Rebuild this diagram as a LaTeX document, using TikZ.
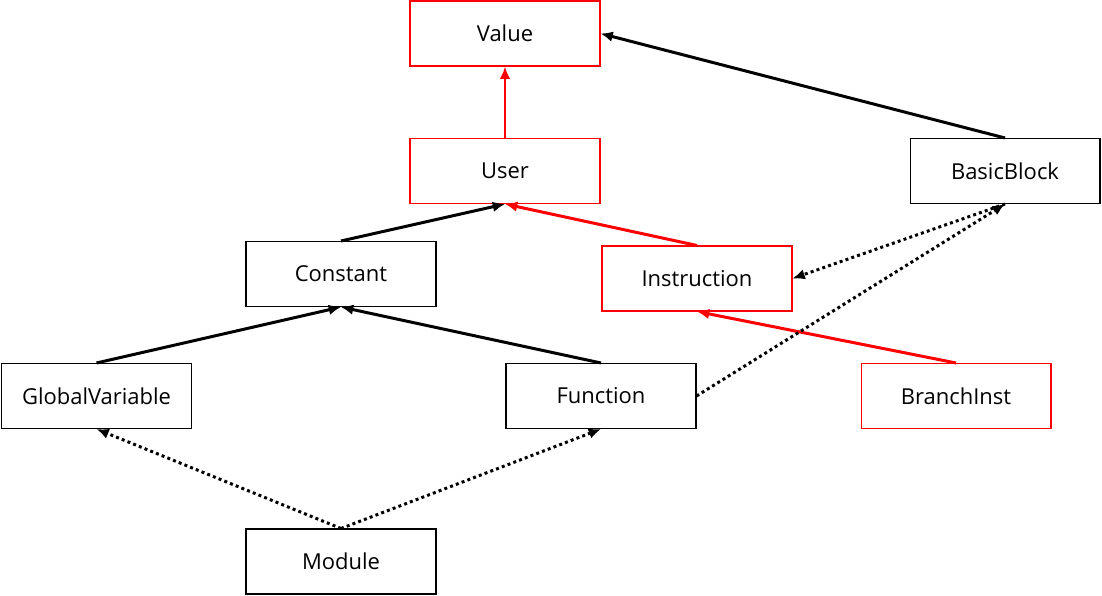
\documentclass[tikz,border=0pt]{standalone}
\usepackage{fontspec}
\setmainfont{Open Sans}
\usetikzlibrary{arrows.meta}

\begin{document}
\begin{tikzpicture}[x=0.02cm,y=-0.02cm,
  cls/.style={draw=#1,line width=0.6pt,
  	minimum width=3.8cm,
   minimum height=1.3cm,
   inner sep=0pt,
   font=\fontsize{12.5}{15}\selectfont},
  cls/.default=black,
  isa/.style={-{Latex[length=7pt,width=6pt]},line width=1.7pt,draw=#1},
  isa/.default=black,
  uses/.style={-{Latex[length=7pt,width=6pt]},line width=1.7pt,
  	dash pattern=on 1.7pt off 1.8pt},
  ]

 \useasboundingbox (0,0) rectangle (1102,595);

 \node[cls=red] (value) at (505,33.5) {Value};
 \node[cls=red] (user) at (505,171) {User};
 \node[cls] (bb) at (1005,171) {BasicBlock};
 \node[cls] (const) at (341,274) {Constant};
 \node[cls=red] (inst) at (697,278.5) {Instruction};
 \node[cls] (gvar) at (96.5,396) {GlobalVariable};
 \node[cls] (func) at (601,396) {Function};
 \node[cls=red] (br) at (956,396) {BranchInst};
 \node[cls] (mod) at (341,561.5) {Module};

 % inheritance
 \draw[isa=red] (user.north) -- (value.south);
 \draw[isa] (bb.north) -- (value.east);
 \draw[isa] (const.north) -- (user.south);
 \draw[isa=red] (inst.north) -- (user.south);
 \draw[isa] (gvar.north) -- (const.south);
 \draw[isa] (func.north) -- (const.south);
 \draw[isa=red] (br.north) -- (inst.south);

 % containment
 \draw[uses] (func.east) -- (bb.south);
 \draw[uses] (bb.south) -- (inst.east);
 \draw[uses] (mod.north) -- (gvar.south);
 \draw[uses] (mod.north) -- (func.south);

\end{tikzpicture}
\end{document}
